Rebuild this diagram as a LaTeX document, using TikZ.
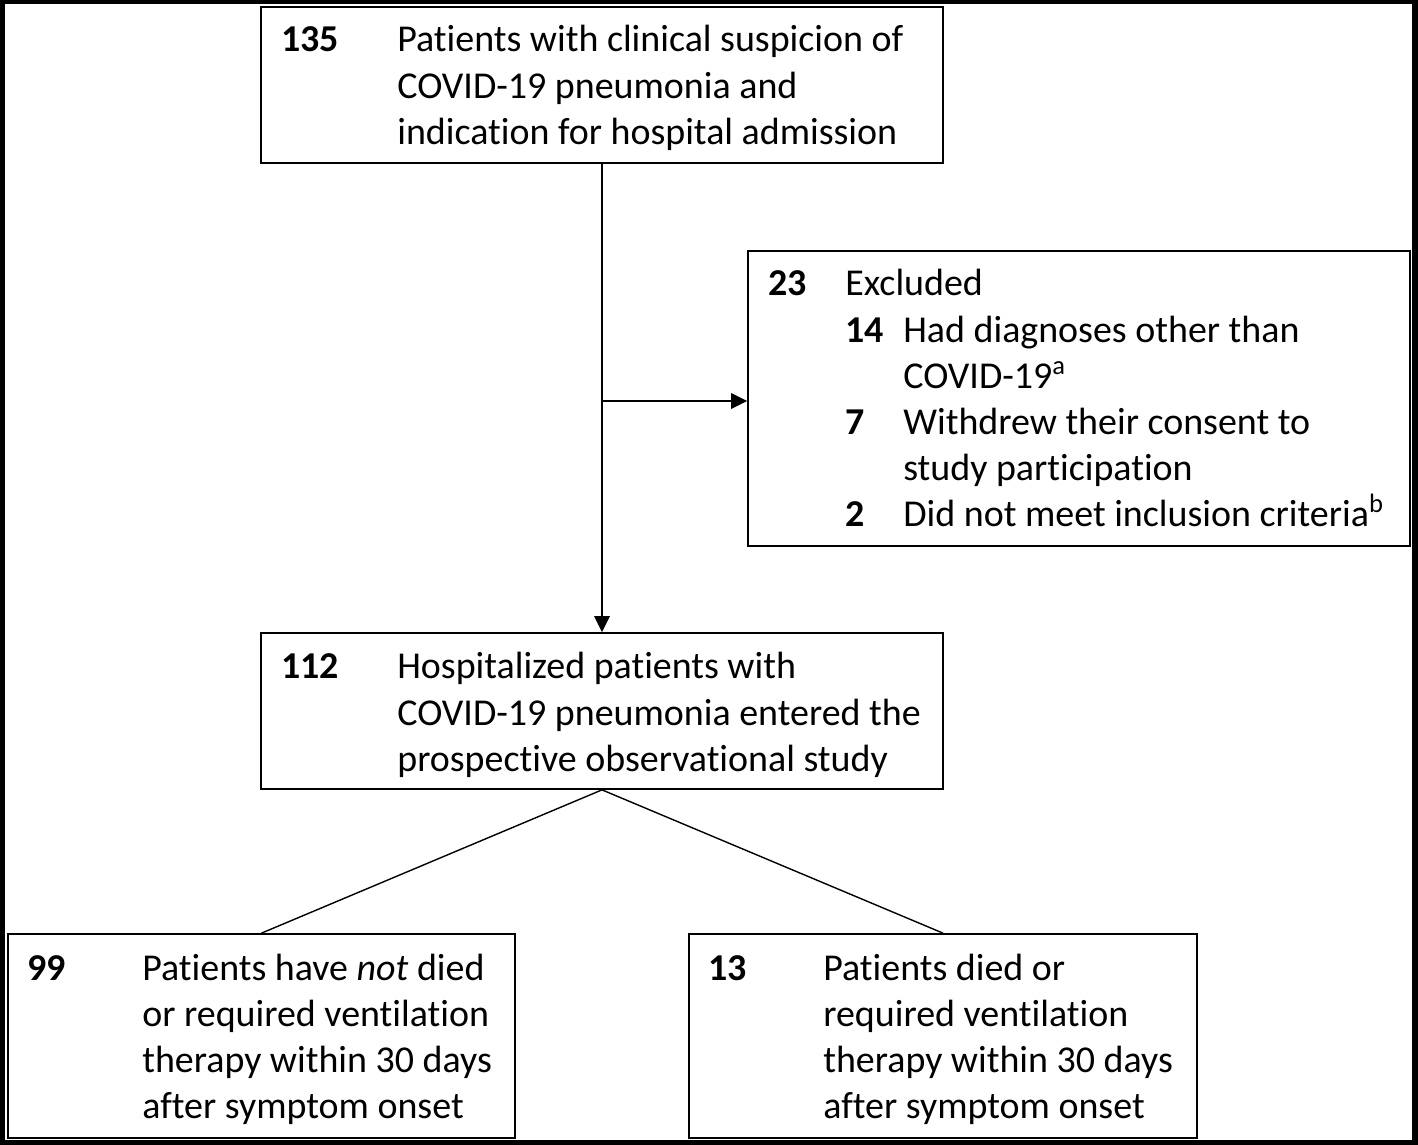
\documentclass[tikz,border=0pt]{standalone}
\usepackage{fontspec}
\setmainfont{Carlito}[Ligatures=NoCommon]
\usetikzlibrary{positioning, arrows.meta}

\begin{document}
\begin{tikzpicture}[x=0.02cm, y=-0.02cm,
    box/.style={draw, line width=1pt, rectangle, inner sep=0pt},
    txt/.style={anchor=base west, inner sep=0pt, font=\fontsize{21.6}{26.2}\selectfont},
    link/.style={line width=0.8pt},
    arr/.style={link, -{Triangle[length=0.32cm, width=0.31cm]}}]
  \useasboundingbox (0,0) rectangle (1418,1145);
  % frame
  \fill[black] (0,0) rectangle (1418,1145);
  \fill[white] (5,4) rectangle (1412,1140);
  % boxes
  \node[box, minimum width=13.64cm, minimum height=3.12cm] (screened) at (602,85) {};
  \node[box, minimum width=13.24cm, minimum height=5.9cm] (excluded) at (1079,398.5) {};
  \node[box, minimum width=13.64cm, minimum height=3.12cm] (enrolled) at (602,711) {};
  \node[box, minimum width=10.14cm, minimum height=4.08cm] (noevent) at (261.5,1036) {};
  \node[box, minimum width=10.16cm, minimum height=4.08cm] (event) at (943,1036) {};
  % texts
  \node[txt] (screenedtxt) at (281,52) {\begin{tabular}[t]{@{}p{2.32cm}@{}l@{}}
    \textbf{135} & Patients with clinical suspicion of\\
     & COVID-19 pneumonia and\\
     & indication for hospital admission
  \end{tabular}};
  \node[txt] (excludedtxt) at (768,296) {\begin{tabular}[t]{@{}p{1.54cm}@{}p{1.16cm}@{}l@{}}
    \textbf{23} & \multicolumn{2}{@{}l@{}}{Excluded}\\
     & \textbf{14} & Had diagnoses other than\\
     & & COVID-19\textsuperscript{a}\\
     & \textbf{7} & Withdrew their consent to\\
     & & study participation\\
     & \textbf{2} & Did not meet inclusion criteria\textsuperscript{b}
  \end{tabular}};
  \node[txt] (enrolledtxt) at (281,679) {\begin{tabular}[t]{@{}p{2.32cm}@{}l@{}}
    \textbf{112} & Hospitalized patients with\\
     & COVID-19 pneumonia entered the\\
     & prospective observational study
  \end{tabular}};
  \node[txt] (noeventtxt) at (27,980) {\begin{tabular}[t]{@{}p{2.3cm}@{}l@{}}
    \textbf{99} & Patients have \textit{not} died\\
     & or required ventilation\\
     & therapy within 30 days\\
     & after symptom onset
  \end{tabular}};
  \node[txt] (eventtxt) at (708,980) {\begin{tabular}[t]{@{}p{2.3cm}@{}l@{}}
    \textbf{13} & Patients died or\\
     & required ventilation\\
     & therapy within 30 days\\
     & after symptom onset
  \end{tabular}};
  % connectors
  \coordinate (split) at (602,401);
  \draw[arr] (screened.south) -- (enrolled.north);
  \draw[arr] (split) -- (split -| excluded.west);
  \draw[link] (enrolled.south) -- (noevent.north);
  \draw[link] (enrolled.south) -- (event.north);
\end{tikzpicture}
\end{document}
